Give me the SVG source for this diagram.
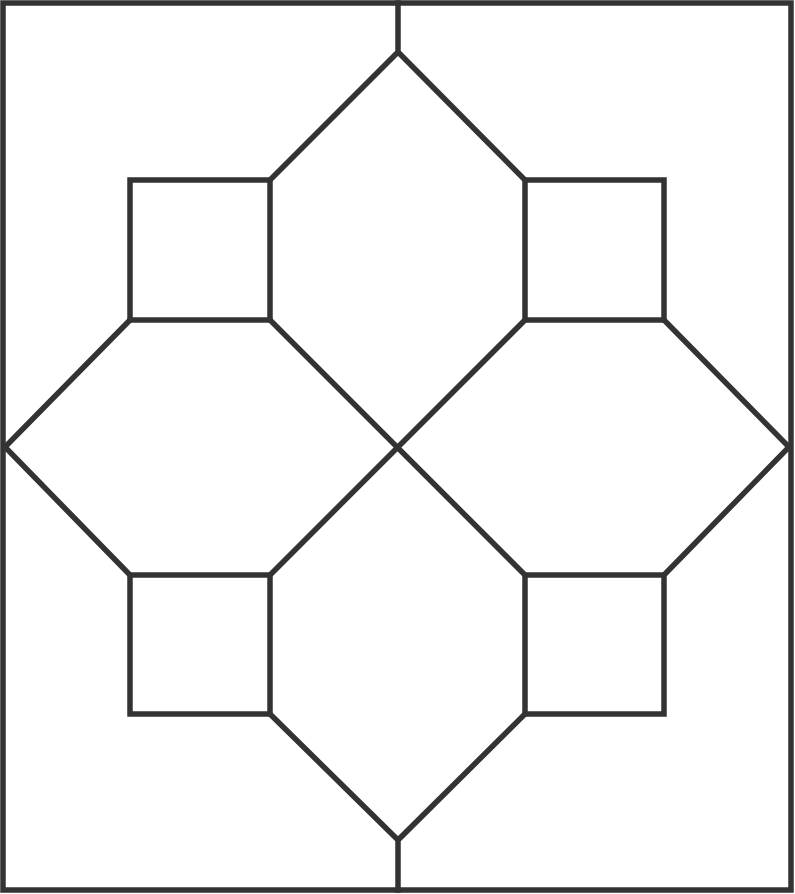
<svg xmlns="http://www.w3.org/2000/svg" width="795" height="894" viewBox="0 0 795 894">
<style>
.s{fill:none;stroke:#333333;stroke-width:5.5;stroke-linejoin:miter;stroke-linecap:square}
</style>
<rect width="795" height="894" fill="#ffffff"/>
<g id="frame"><rect class="s" x="3" y="3" width="788" height="887"/></g>
<g id="squares">
<rect class="s" x="130" y="180" width="140" height="140"/>
<rect class="s" x="525" y="180" width="139" height="140"/>
<rect class="s" x="130" y="575" width="140" height="139"/>
<rect class="s" x="525" y="575" width="139" height="139"/>
</g>
<g id="lines">
<path class="s" d="M398,3 V52 L270,180 M398,52 L525,180"/>
<path class="s" d="M398,890 V840 L270,714 M398,840 L525,714"/>
<path class="s" d="M270,320 L525,575 M525,320 L270,575"/>
<path class="s" d="M130,320 L5,447 L130,575"/>
<path class="s" d="M664,320 L789,447 L664,575"/>
</g>
</svg>
